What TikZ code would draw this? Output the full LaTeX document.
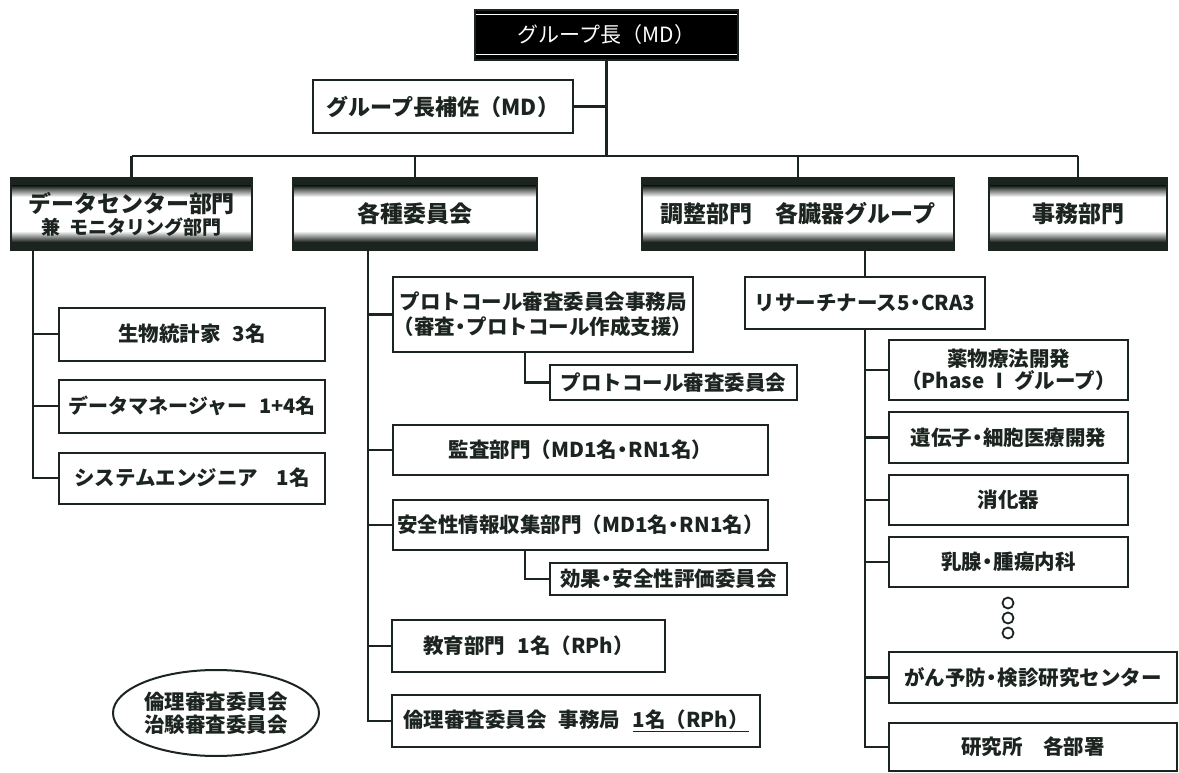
\documentclass[tikz,border=0pt]{standalone}
\usepackage{fontspec}
\setmainfont{Noto Sans CJK JP}
\usetikzlibrary{shapes.geometric}
\definecolor{ink}{RGB}{28,36,32}
\newcommand{\nd}{{\kern-0.22em・\kern-0.22em}}
\begin{document}
\begin{tikzpicture}[x=1pt,y=-1pt,
  ln/.style={draw=ink, line width=2.2pt},
  box/.style={draw=ink, line width=2pt, fill=white, inner sep=0pt, align=center, text=ink,
    font=\bfseries\fontsize{20.5pt}{25pt}\selectfont},
  head/.style={box, minimum height=72pt, font=\bfseries\fontsize{23pt}{25pt}\selectfont,
    path picture={
      \fill[ink] (path picture bounding box.north west) rectangle ([yshift=-8pt]path picture bounding box.north east);
      \shade[top color=ink, bottom color=white] ([yshift=-8pt]path picture bounding box.north west) rectangle ([yshift=-19pt]path picture bounding box.north east);
      \fill[ink] (path picture bounding box.south west) rectangle ([yshift=8pt]path picture bounding box.south east);
      \shade[top color=white, bottom color=ink] ([yshift=19pt]path picture bounding box.south west) rectangle ([yshift=8pt]path picture bounding box.south east);
    }},
  dot/.style={circle, draw=ink, line width=1.8pt, minimum size=11pt, inner sep=0pt}
]
\fill[white] (0,0) rectangle (1179,773);
\useasboundingbox (0,0) rectangle (1179,773);

% top
\node[fill=black, draw=ink, line width=2pt, minimum width=263pt, minimum height=50pt, inner sep=0pt,
  text=white, font=\fontsize{21pt}{24pt}\selectfont,
  path picture={
    \draw[white, line width=1pt] ([yshift=-5pt]path picture bounding box.north west) -- ([yshift=-5pt]path picture bounding box.north east);
    \draw[white, line width=1pt] ([yshift=5pt]path picture bounding box.south west) -- ([yshift=5pt]path picture bounding box.south east);
  }] (top) at (606.5,35) {グループ長（MD）};
\node[box, minimum width=260pt, minimum height=53pt, font=\bfseries\fontsize{22pt}{25pt}\selectfont] (asst) at (443,106.5) {グループ長補佐（MD）};

% header row
\node[head, minimum width=241pt] (dc) at (131.5,214) {データセンター部門\\[-3pt]{\fontsize{19pt}{20pt}\selectfont 兼\hspace{0.5em}モニタリング部門}};
\node[head, minimum width=244pt] (com) at (415,214) {各種委員会};
\node[head, minimum width=312pt] (adj) at (798,214) {調整部門\hspace{1em}各臓器グループ};
\node[head, minimum width=178pt] (off) at (1078,214) {事務部門};

\coordinate (busL) at (131.5,156);
\coordinate (busR) at (1078,156);
\draw[ln] (top.south) -- (top.south |- busL);
\draw[ln] (asst.east) -- (asst.east -| top.south);
\draw[ln] (busL) -- (busR);
\draw[ln] (dc.north) -- (dc.north |- busL);
\draw[ln] (com.north) -- (com.north |- busL);
\draw[ln] (adj.north) -- (adj.north |- busL);
\draw[ln] (off.north) -- (off.north |- busR);

% left column
\node[box, minimum width=266pt, minimum height=53pt] (bio) at (192,334) {生物統計家\hspace{0.6em}3名};
\node[box, minimum width=266pt, minimum height=53pt, font=\bfseries\fontsize{20pt}{25pt}\selectfont] (dm) at (192,406) {データマネージャー\hspace{0.6em}1+4名};
\node[box, minimum width=266pt, minimum height=51pt] (se) at (192,478) {システムエンジニア\hspace{0.9em}1名};
\coordinate (lv) at (33,0);
\draw[ln] (dc.south -| lv) -- (se.west -| lv) -- (se.west);
\draw[ln] (bio.west -| lv) -- (bio.west);
\draw[ln] (dm.west -| lv) -- (dm.west);

% middle column
\node[box, minimum width=300pt, minimum height=75pt] (proto) at (543,314.5) {プロトコール審査委員会事務局\\（審査\nd プロトコール作成支援）};
\node[box, minimum width=247pt, minimum height=35pt] (protoC) at (673.5,382.5) {プロトコール審査委員会};
\node[box, minimum width=375pt, minimum height=50pt] (audit) at (580.5,450) {監査部門（MD1名\nd RN1名）};
\node[box, minimum width=375pt, minimum height=50pt] (safety) at (580.5,525) {安全性情報収集部門（MD1名\nd RN1名）};
\node[box, minimum width=237pt, minimum height=32pt] (effC) at (668.5,579) {効果\nd 安全性評価委員会};
\node[box, minimum width=273pt, minimum height=52pt] (edu) at (528.5,646) {教育部門\hspace{0.6em}1名（RPh）};
\node[box, minimum width=368pt, minimum height=52pt] (eth) at (576,721) {倫理審査委員会\hspace{0.6em}事務局\hspace{0.6em}\underline{1名（RPh）}};
\coordinate (mv) at (368,0);
\draw[ln] (com.south -| mv) -- (eth.west -| mv) -- (eth.west);
\draw[ln] (proto.west -| mv) -- (proto.west);
\draw[ln] (audit.west -| mv) -- (audit.west);
\draw[ln] (safety.west -| mv) -- (safety.west);
\draw[ln] (edu.west -| mv) -- (edu.west);
\coordinate (sv) at (525,0);
\draw[ln] (proto.south -| sv) -- (protoC.west -| sv) -- (protoC.west);
\draw[ln] (safety.south -| sv) -- (effC.west -| sv) -- (effC.west);

% right column
\node[box, minimum width=240pt, minimum height=52pt] (rn) at (865,303) {リサーチナース5\nd CRA3};
\node[box, minimum width=239pt, minimum height=60pt] (drug) at (1008.5,370) {薬物療法開発\\[-3pt]（Phase Ⅰ グループ）};
\node[box, minimum width=239pt, minimum height=51pt] (gene) at (1008.5,437.5) {遺伝子\nd 細胞医療開発};
\node[box, minimum width=239pt, minimum height=50pt] (dig) at (1008.5,500) {消化器};
\node[box, minimum width=239pt, minimum height=50pt] (breast) at (1008.5,562) {乳腺\nd 腫瘍内科};
\node[dot] (d1) at (1008,603) {};
\node[dot] (d2) at (1008,618) {};
\node[dot] (d3) at (1008,633) {};
\node[box, minimum width=288pt, minimum height=51pt] (cancer) at (1033,677.5) {がん予防\nd 検診研究センター};
\node[box, minimum width=288pt, minimum height=48pt] (lab) at (1033,747) {研究所\hspace{1em}各部署};
\draw[ln] (rn.north |- adj.south) -- (rn.north);
\draw[ln] (rn.south) -- (rn.south |- lab.west) -- (lab.west);
\draw[ln] (drug.west -| rn.south) -- (drug.west);
\draw[ln] (gene.west -| rn.south) -- (gene.west);
\draw[ln] (dig.west -| rn.south) -- (dig.west);
\draw[ln] (breast.west -| rn.south) -- (breast.west);
\draw[ln] (cancer.west -| rn.south) -- (cancer.west);

% ellipse
\node[ellipse, draw=ink, line width=2pt, minimum width=206pt, minimum height=86pt, inner sep=0pt,
  align=center, text=ink, font=\bfseries\fontsize{20.5pt}{23pt}\selectfont] (ethc) at (216,713) {倫理審査委員会\\治験審査委員会};
\end{tikzpicture}
\end{document}
